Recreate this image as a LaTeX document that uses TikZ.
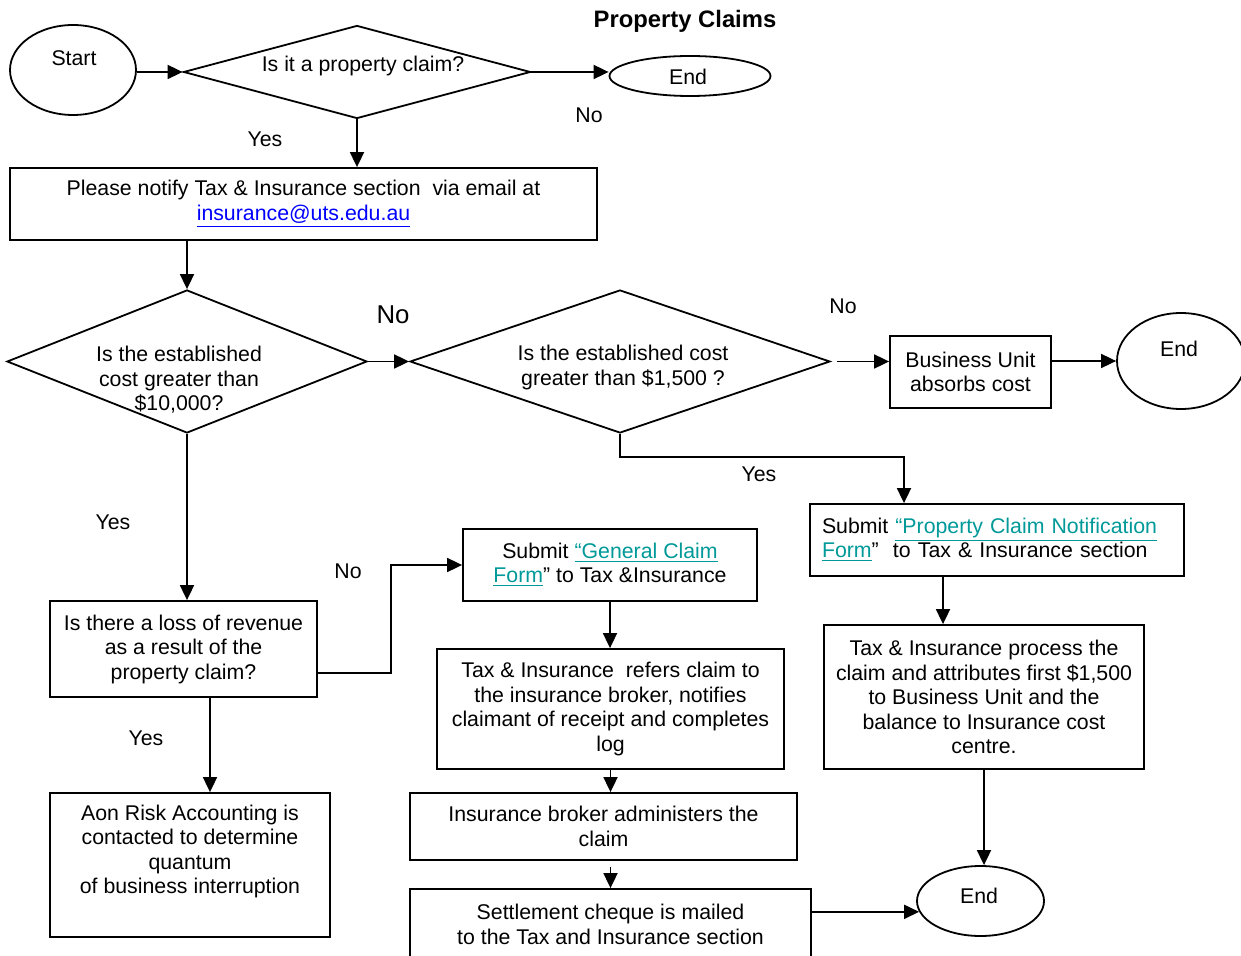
\documentclass[tikz,border=0pt]{standalone}
\usepackage{fontspec}
\setmainfont{Liberation Sans}
\usetikzlibrary{shapes.geometric,arrows.meta,calc}
\definecolor{mailblue}{RGB}{0,0,255}
\definecolor{formteal}{RGB}{0,153,153}

\tikzset{
  box/.style={draw,rectangle,align=center,inner sep=2pt},
  term/.style={draw,ellipse,inner sep=0pt},
  decision/.style={draw,diamond,inner sep=0pt},
  bigtext/.style={font=\fontsize{12.9}{14}\selectfont},
  titletext/.style={font=\fontsize{11.9}{14}\selectfont\bfseries}
}

\begin{document}
\begin{tikzpicture}[x=0.5pt,y=-0.5pt,>={Triangle[length=7.5pt,width=7pt]},line width=0.9pt,
  every node/.style={font=\fontsize{10.65}{12.25}\selectfont,align=center}]
\useasboundingbox (0,0) rectangle (1241,956);

% title
\node[titletext] (ttl) at (685,21) {Property Claims};

% first decision
\node[term,minimum width=63pt,minimum height=45pt] (start) at (73,70) {};
\node (startt) at (74,58) {Start};
\node[decision,minimum width=173.5pt,minimum height=46.5pt] (d1) at (357,72) {};
\node (d1t) at (363,66) {Is it a property claim?};
\node[term,minimum width=80.5pt,minimum height=20pt] (end1) at (690,76) {};
\node (end1t) at (688,77) {End};
\node[box,minimum width=293.5pt,minimum height=36pt] (notify) at (303.5,204)
  {Please notify Tax \& Insurance section~ via email at\\ \textcolor{mailblue}{\underline{insurance@uts.edu.au}}};

% cost decisions
\node[decision,minimum width=180pt,minimum height=71.5pt] (d2) at (187,361.5) {};
\node (d2t) at (179,380) {Is the established\\ cost greater than\\ \$10,000?};
\node[decision,minimum width=210pt,minimum height=71.5pt] (d3) at (620,361.5) {};
\node (d3t) at (623,367.5) {Is the established cost\\ greater than \$1,500 ?};
\node[box,minimum width=80.5pt,minimum height=36pt] (bu) at (970.5,372) {Business Unit\\ absorbs cost};
\node[term,minimum width=64pt,minimum height=48pt] (end2) at (1181,361) {};
\node (end2t) at (1179,349) {End};

% under \$1,500 path
\node[box,align=left,text width=175pt,minimum width=187pt,minimum height=36pt] (pcn) at (997,540)
  {Submit \textcolor{formteal}{\underline{“Property Claim Notification}}\\ \textcolor{formteal}{\underline{Form}}”~ to Tax \& Insurance section};
\node[box,minimum width=160pt,minimum height=72pt] (tip) at (984,697)
  {Tax \& Insurance process the\\ claim and attributes first \$1,500\\ to Business Unit and the\\ balance to Insurance cost\\ centre.};
\node[term,minimum width=63.5pt,minimum height=35pt] (end3) at (980.5,901) {};
\node (end3t) at (979,896) {End};

% over \$10,000 path
\node[box,minimum width=133.5pt,minimum height=48pt] (loss) at (183.5,649)
  {Is there a loss of revenue\\ as a result of the\\ property claim?};
\node[box,minimum width=140pt,minimum height=72pt] (aon) at (190,865)
  {Aon Risk Accounting is\\ contacted to determine\\ quantum\\ of business interruption\\ \strut};
\node[box,minimum width=147pt,minimum height=36pt] (gcf) at (610,565)
  {Submit \textcolor{formteal}{\underline{“General Claim}}\\ \textcolor{formteal}{\underline{Form}}” to Tax \&Insurance};
\node[box,minimum width=173.5pt,minimum height=60pt] (ref) at (610.5,709)
  {Tax \& Insurance~ refers claim to\\ the insurance broker, notifies\\ claimant of receipt and completes\\ log};
\node[box,minimum width=193.5pt,minimum height=33.5pt] (brk) at (603.5,826.5)
  {Insurance broker administers the\\ claim};
\node[box,minimum width=200.5pt,minimum height=35.5pt] (set) at (610.5,924.5)
  {Settlement cheque is mailed\\ to the Tax and Insurance section};

% branch labels
\node (lyes1) at (265,139) {Yes};
\node (lno1) at (589,115) {No};
\node[bigtext] (lno2) at (393,315) {No};
\node (lno3) at (843,306) {No};
\node (lyes3) at (759,474) {Yes};
\node (lyes2) at (113,522) {Yes};
\node (lno4) at (348,571) {No};
\node (lyes4) at (146,738) {Yes};

% connectors
\draw[->] (start.east |- d1.west) -- (d1.west);
\draw[->] (d1.east) -- (d1.east -| end1.west);
\draw[->] (d1.south) -- (d1.south |- notify.north);
\draw[->] (notify.south -| d2.north) -- (d2.north);
\draw[->] (d2.east) -- (d3.west);
\draw[->] ([xshift=3pt]d3.east) -- (d3.east -| bu.west);
\draw[->] (bu.east |- end2.west) -- (end2.west);
\coordinate (yesb) at (904,457);
\draw[->] (d3.south) |- (yesb) -- (yesb |- pcn.north);
\draw[->] ([xshift=-27pt]pcn.south) -- ([xshift=-27pt]pcn.south |- tip.north);
\draw[->] (tip.south) -- (tip.south |- end3.north);
\draw[->] (d2.south) -- (d2.south |- loss.north);
\draw[->] ([yshift=-12pt]loss.east) -- ++(73,0) |- (gcf.west);
\draw[->] (gcf.south) -- (gcf.south |- ref.north);
\draw[->] (ref.south) -- (ref.south |- brk.north);
\draw[->] ([yshift=-3pt]brk.south -| set.north) -- (set.north);
\draw[->] (set.east |- end3.190) -- (end3.190);
\draw[->] ([xshift=13.25pt]loss.south) -- ([xshift=13.25pt]loss.south |- aon.north);
\end{tikzpicture}
\end{document}
